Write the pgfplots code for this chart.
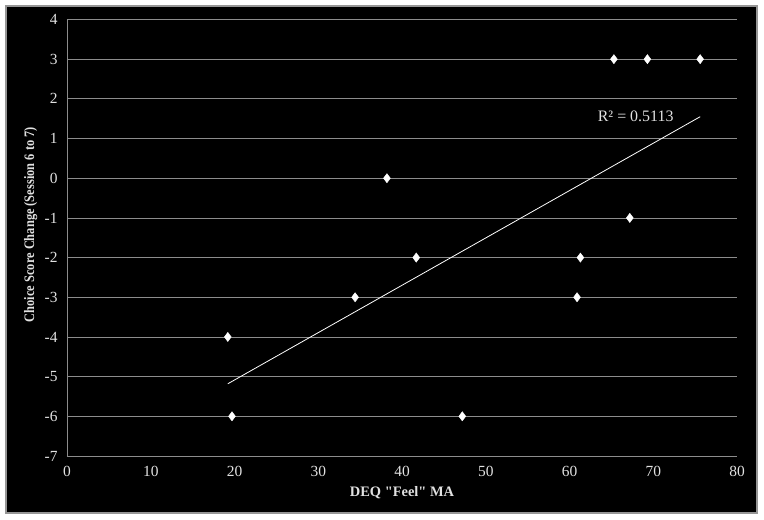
\documentclass[border=0pt]{standalone}
\usepackage{graphicx}
\usepackage{pgfplots}
\pgfplotsset{compat=1.18}
\usepackage{fontspec}
\setmainfont{Liberation Serif}
\newfontfamily\lsnomap{Liberation Serif}
\definecolor{gridgray}{RGB}{140,140,140}
\definecolor{ticktext}{RGB}{225,225,225}
\definecolor{framegray}{RGB}{150,150,150}
\begin{document}
\begin{tikzpicture}[x=1bp,y=1bp]
\fill[white] (-67,-64) rectangle (697,456);
\filldraw[fill=black,draw=framegray,line width=1.2bp] (-61,-57) rectangle (690,450);
\begin{axis}[
  at={(0,0)}, anchor=south west,
  scale only axis,
  width=670bp, height=436.5bp,
  xmin=0, xmax=80, ymin=-7, ymax=4,
  xtick={0,10,...,80}, ytick={-7,-6,...,4},
  axis x line*=bottom, axis y line*=left,
  axis line style={gridgray, line width=0.8bp, -},
  ymajorgrids, major grid style={gridgray, line width=0.8bp},
  tick style={draw=none},
  /pgf/number format/assume math mode=true,
  ticklabel style={font=\fontsize{15.5}{17}\selectfont, text=ticktext},
  xticklabel style={yshift=-7bp},
  yticklabel style={xshift=-6bp},
  xlabel={\lsnomap DEQ "Feel" MA},
  ylabel={\scalebox{0.86}[1]{Choice Score Change (Session 6 to 7)}},
  xlabel style={font=\bfseries\fontsize{14.5}{16}\selectfont, text=ticktext,
    at={(axis description cs:0.5,-0.085)}, anchor=center},
  ylabel style={font=\bfseries\fontsize{14.5}{16}\selectfont, text=ticktext,
    at={(axis description cs:-0.054,0.53)}, anchor=center},
  clip=false,
]
\addplot[only marks, mark=diamond*, mark size=4.6bp, mark options={fill=white, draw=white}]
coordinates {
(19.2,-4) (19.7,-6) (34.4,-3) (38.2,0) (41.7,-2) (47.2,-6)
(60.9,-3) (61.3,-2) (65.3,3) (67.2,-1) (69.3,3) (75.6,3)
};
\addplot[white, line width=0.8bp, no marks] coordinates {(19.2,-5.18) (75.6,1.55)};
\node[text=ticktext, font=\fontsize{16}{18}\selectfont] at (axis cs:67.9,1.55) {R² = 0.5113};
\end{axis}
\end{tikzpicture}
\end{document}
